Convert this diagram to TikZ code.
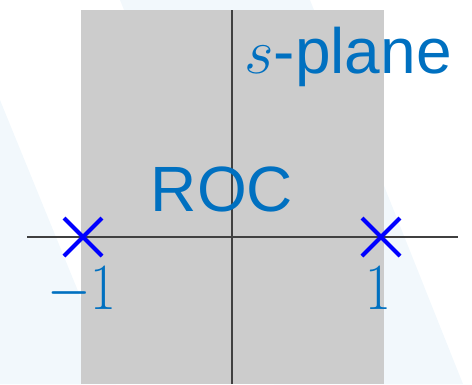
\documentclass[tikz,border=0pt]{standalone}
\usepackage{fix-cm}
\usepackage{fontspec}
\usepackage{graphicx}
\newfontfamily\labelsans{Liberation Sans}
\usetikzlibrary{shapes.misc}
\definecolor{rocgray}{RGB}{204,204,204}
\definecolor{labelblue}{RGB}{0,112,192}
\definecolor{poleblue}{RGB}{0,0,255}
\definecolor{pale}{RGB}{242,248,252}
\definecolor{axisgray}{RGB}{64,64,64}
\newcommand{\narrowlabel}[1]{\scalebox{0.85}[1]{#1}}
\begin{document}
\begin{tikzpicture}[x=1pt,y=-1pt,
  axis/.style={draw=axisgray,line width=1.3pt},
  pole/.style={cross out,draw=poleblue,line width=4pt,minimum size=34pt,inner sep=0pt},
  numlabel/.style={text=labelblue,inner sep=0pt,anchor=base,font=\fontsize{66}{70}\selectfont},
  sanslabel/.style={text=labelblue,inner sep=0pt,anchor=base,font=\labelsans\fontsize{64}{70}\selectfont}]
\useasboundingbox (0,0) rectangle (472,384);
% faint background bands
\fill[pale] (0,100) -- (116,384) -- (0,384) -- cycle;
\fill[pale] (120,0) -- (310,0) -- (463,384) -- (274,384) -- cycle;
% region of convergence
\fill[rocgray] (81,10) rectangle (384,384);
% axes
\coordinate (xl) at (27,237);
\coordinate (xr) at (458,237);
\coordinate (yt) at (232,10);
\coordinate (yb) at (232,384);
\draw[axis] (xl) -- (xr);
\draw[axis] (yb) -- (yt);
% poles
\node[pole] (pm) at (83,237) {};
\node[pole] (pp) at (381,237) {};
% labels
\node[numlabel] (lm) at (82,309) {\narrowlabel{$-1$}};
\node[numlabel] (lp) at (378,309) {\narrowlabel{$1$}};
\node[sanslabel] (roc) at (222,211) {ROC};
\node[sanslabel] (sp) at (348,73) {$s$-plane};
\end{tikzpicture}
\end{document}
